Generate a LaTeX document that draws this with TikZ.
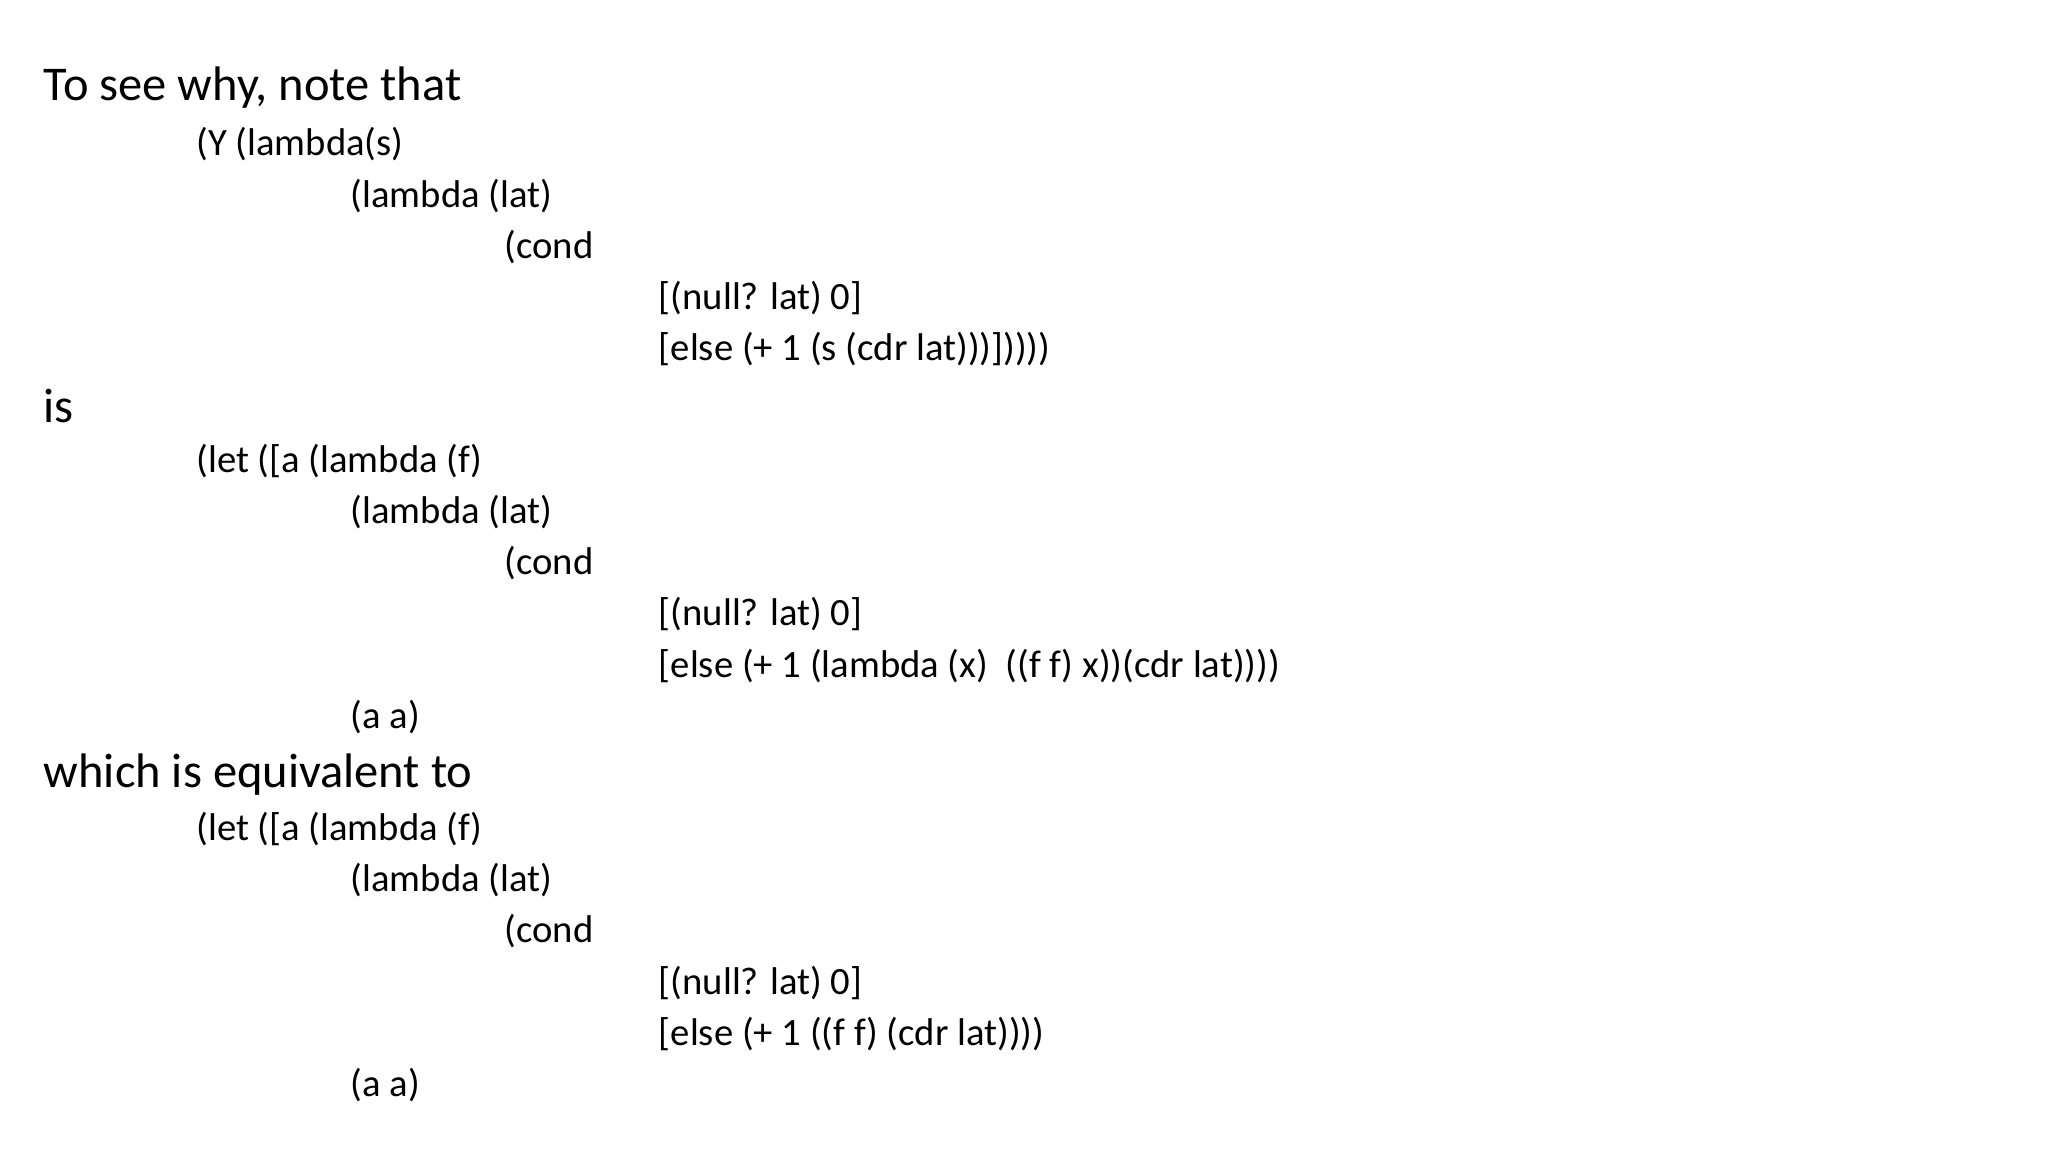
\documentclass[tikz,border=0pt]{standalone}
\usepackage{fontspec}
\setmainfont{Carlito}
\begin{document}
\begin{tikzpicture}[x=0.01306cm,y=-0.01306cm,
  big/.style={anchor=west,inner sep=0pt,font=\fontsize{13.8}{16}\selectfont},
  code/.style={anchor=west,inner sep=0pt,font=\fontsize{11}{13}\selectfont}]
\useasboundingbox (0,0) rectangle (1568,882);
\node[big] (t1) at (33,67) {To see why, note that};
\node[code] (a1) at (150,110) {(Y (lambda(s)};
\node[code] (a2) at (268,150) {(lambda (lat)};
\node[code] (a3) at (386,189) {(cond};
\node[code] (a4) at (504,228) {[(null? lat) 0]};
\node[code] (a5) at (504,267) {[else (+ 1 (s (cdr lat)))]))))};
\node[big] (t2) at (33,311) {is};
\node[code] (b1) at (150,353) {(let ([a (lambda (f)};
\node[code] (b2) at (268,392) {(lambda (lat)};
\node[code] (b3) at (386,431) {(cond};
\node[code] (b4) at (504,470) {[(null? lat) 0]};
\node[code] (b5) at (504,510) {[else (+ 1 (lambda (x)\ \ ((f f) x))(cdr lat))))};
\node[code] (b6) at (268,549) {(a a)};
\node[big] (t3) at (33,593) {which is equivalent to};
\node[code] (c1) at (150,635) {(let ([a (lambda (f)};
\node[code] (c2) at (268,674) {(lambda (lat)};
\node[code] (c3) at (386,713) {(cond};
\node[code] (c4) at (504,753) {[(null? lat) 0]};
\node[code] (c5) at (504,792) {[else (+ 1 ((f f) (cdr lat))))};
\node[code] (c6) at (268,831) {(a a)};
\end{tikzpicture}
\end{document}
